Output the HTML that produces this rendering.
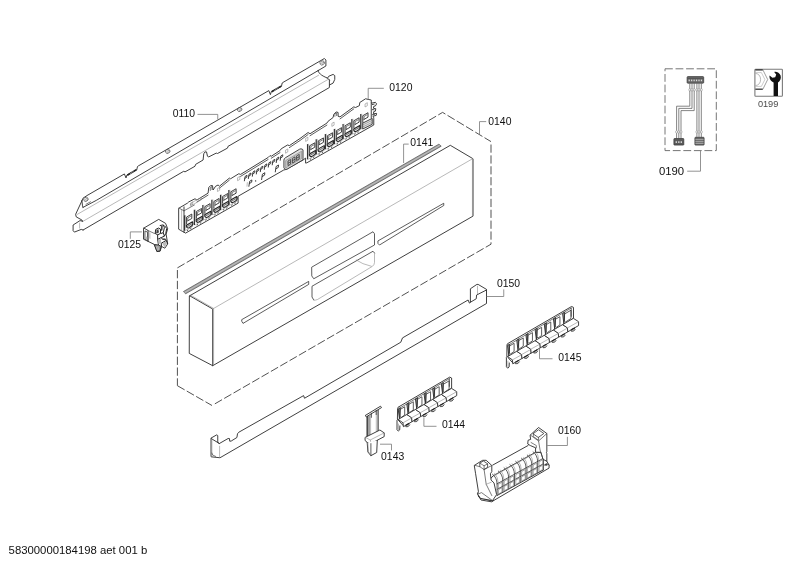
<!DOCTYPE html>
<html><head><meta charset="utf-8"><title>Parts diagram</title>
<style>
html,body{margin:0;padding:0;background:#fff;}
body{width:800px;height:566px;overflow:hidden;font-family:"Liberation Sans",sans-serif;}
svg{display:block;will-change:transform;}
svg text{font-family:"Liberation Sans",sans-serif;}
.k{stroke:#2a2a2a;stroke-width:0.9;fill:none;stroke-linejoin:round;stroke-linecap:round;}
.k2{stroke:#333;stroke-width:0.8;fill:none;stroke-linejoin:round;stroke-linecap:round;}
.m{stroke:#444;stroke-width:0.7;fill:none;stroke-linejoin:round;stroke-linecap:round;}
.g{stroke:#8a8a8a;stroke-width:0.6;fill:none;stroke-linejoin:round;stroke-linecap:round;}
.l{stroke:#777;stroke-width:0.8;fill:none;}
.d{stroke:#555;stroke-width:0.8;fill:none;stroke-dasharray:9.2 2.3;}
.w{stroke:#2a2a2a;stroke-width:0.9;fill:#fff;stroke-linejoin:round;stroke-linecap:round;}
.wg{stroke:#8a8a8a;stroke-width:0.6;fill:#fff;stroke-linejoin:round;}
.t{stroke:#555;stroke-width:0.5;fill:none;stroke-linejoin:round;}
.wm{stroke:#444;stroke-width:0.7;fill:#fff;stroke-linejoin:round;stroke-linecap:round;}
</style></head><body>
<svg width="800" height="566" viewBox="0 0 800 566">
<rect width="800" height="566" fill="#fff"/>
<path class="k" d="M81.90 200.80 L83.00 198.20 L86.90 195.60 L124.40 173.95 L126.00 177.95 L126.90 175.05 L136.70 170.03 L137.50 166.53 L138.30 165.93 L268.80 90.61 L270.40 94.61 L271.30 91.71 L281.40 86.51 L282.20 83.01 L283.00 82.41 L324.40 58.50 L325.90 60.00 L325.90 66.00 L318.10 70.60" fill="none" />
<path d="M127.30 175.15 L136.40 169.63" stroke="#222" stroke-width="1.7" fill="none"/>
<path d="M129.90 174.05 L133.80 170.83" stroke="#ddd" stroke-width="0.5" fill="none"/>
<path d="M271.70 91.81 L281.10 86.11" stroke="#222" stroke-width="1.7" fill="none"/>
<path d="M274.30 90.71 L278.50 87.31" stroke="#ddd" stroke-width="0.5" fill="none"/>
<path class="k" d="M81.90 200.80 L82.50 205.80 L83.00 207.40" fill="none" />
<path class="k" d="M83.00 207.40 L96.25 200.40 L318.10 70.60" fill="none" />
<path class="m" d="M86.00 204.30 L90.50 201.80" fill="none" />
<ellipse cx="85.90" cy="199.30" rx="2.3" ry="2.0" stroke="#555" stroke-width="0.75" fill="none" transform="rotate(-30 85.90 199.30)"/>
<ellipse cx="86.20" cy="199.60" rx="1.1" ry="0.9" class="g" transform="rotate(-30 85.90 199.30)"/>
<ellipse cx="167.70" cy="151.30" rx="2.3" ry="2.0" stroke="#555" stroke-width="0.75" fill="none" transform="rotate(-30 167.70 151.30)"/>
<ellipse cx="168.00" cy="151.60" rx="1.1" ry="0.9" class="g" transform="rotate(-30 167.70 151.30)"/>
<ellipse cx="239.60" cy="109.40" rx="2.3" ry="2.0" stroke="#555" stroke-width="0.75" fill="none" transform="rotate(-30 239.60 109.40)"/>
<ellipse cx="239.90" cy="109.70" rx="1.1" ry="0.9" class="g" transform="rotate(-30 239.60 109.40)"/>
<ellipse cx="322.20" cy="62.90" rx="2.3" ry="2.0" stroke="#555" stroke-width="0.75" fill="none" transform="rotate(-30 322.20 62.90)"/>
<ellipse cx="322.50" cy="63.20" rx="1.1" ry="0.9" class="g" transform="rotate(-30 322.20 62.90)"/>
<path class="k" d="M81.90 200.80 L75.60 214.40 L76.25 216.90 L81.90 220.00 L82.50 221.25" fill="none" />
<path class="g" d="M76.90 214.60 L318.60 75.23" fill="none" />
<path class="g" d="M83.10 221.25 L328.10 79.40" fill="none" />
<path class="k" d="M82.50 221.25 L80.00 220.60 L73.10 225.00 L73.10 230.60 L74.40 232.10 L81.25 229.40 L83.10 230.00" fill="none" />
<path class="g" d="M79.60 223.10 L79.60 228.10"/>
<path class="k" d="M83.10 230.00 L183.75 171.25 L185.00 171.90 L195.00 166.25 L195.60 164.40 L203.10 160.00 L203.75 153.75 L205.00 151.90 L206.50 151.90 L207.50 156.25 L208.75 156.90 L216.25 153.10 L217.50 153.50 L227.50 148.10 L228.10 146.25 L230.00 145.25 L329.40 87.50 L329.40 80.00" fill="none" />
<path class="k" d="M318.1 70.6 C318.6 73 320.5 75.2 327.5 78.1 L329.4 80"/>
<path class="k" d="M327.50 78.10 L328.75 76.25 L333.10 74.40 L334.75 75.60 L334.75 79.40 L333.10 83.10 L329.60 84.90" fill="none" />
<text x="172.80" y="117.30" font-size="10.4" fill="#111" text-anchor="start">0110</text>
<path class="l" d="M197.50 114.40 L217.75 114.40 L217.75 119.40" fill="none" />
<text x="8.60" y="554.20" font-size="11.33" fill="#111" text-anchor="start">58300000184198 aet 001 b</text>
<path class="w" d="M179.00 208.10 L187.50 203.10 L188.75 201.90 L195.00 198.75 L196.90 200.00 L208.10 193.10 L208.75 187.50 L210.60 185.60 L212.50 185.60 L213.10 190.00 L215.60 186.25 L218.10 185.00 L219.40 186.25 L229.40 178.10 L230.60 178.75 L238.75 173.75 L240.60 174.40 L268.10 157.50 L270.00 155.60 L271.25 156.25 L280.00 150.60 L281.25 148.75 L287.50 145.00 L289.40 145.60 L300.00 138.50 L308.10 132.50 L310.00 133.75 L326.90 123.10 L328.10 121.25 L333.10 117.50 L333.75 114.40 L336.25 111.90 L338.10 112.50 L338.10 116.25 L340.00 116.90 L353.75 106.90 L355.60 107.50 L359.40 105.60 L359.75 102.50 L365.60 98.75 L368.10 99.40 L371.25 100.00 L371.25 103.10 L371.90 103.10 L375.40 102.30 L376.60 103.90 L375.40 105.90 L373.80 106.30 L373.40 108.30 L375.80 108.70 L375.40 111.10 L373.80 111.50 L373.40 113.80 L376.60 113.40 L376.20 115.40 L373.00 116.20 L373.75 117.80 L373.75 118.75 L373.75 125.00 L306.90 162.80 L305.60 163.10 L305.60 158.10 L303.10 160.00 L286.25 169.40 L283.75 170.00 L238.10 196.25 L238.10 203.10 L185.60 233.10 L179.00 229.40 Z" fill="none" />
<path class="k2" d="M196.90 202.00 L208.10 195.10" fill="none" />
<path class="k2" d="M219.40 188.25 L229.40 180.10" fill="none" />
<path class="k2" d="M240.60 176.40 L268.10 159.50" fill="none" />
<path class="k2" d="M271.25 158.25 L280.00 152.60" fill="none" />
<path class="k2" d="M289.40 147.60 L300.00 140.50 L308.10 134.50" fill="none" />
<path class="k2" d="M310.00 135.75 L326.90 125.10" fill="none" />
<path class="k2" d="M340.00 118.90 L353.75 108.90" fill="none" />
<path class="g" d="M181.60 209.80 L181.60 231.00"/>
<path class="k" d="M184.00 206.90 L184.00 232.20"/>
<path class="m" d="M179.00 208.10 L184.00 210.80" fill="none" />
<path class="m" d="M184.00 210.80 L194.40 205.00" fill="none" />
<path class="g" d="M190.60 204.40 L192.50 202.20 L201.50 197.50 L201.50 199.60 L193.50 204.40 L190.60 204.40" fill="none" />
<path class="m" d="M210.3 190.5 L210.3 187.6 L212 186.6 L212 189.6"/>
<path class="m" d="M334.9 116.3 L334.9 113.6 L336.6 112.9 L336.6 115.6"/>
<path class="g" d="M217.80 188.30 L219.70 187.21 L219.70 190.21 L217.80 191.30 Z" fill="none" />
<path class="g" d="M237.90 177.50 L239.80 176.41 L239.80 179.41 L237.90 180.50 Z" fill="none" />
<path class="g" d="M285.90 150.00 L287.80 148.91 L287.80 151.91 L285.90 153.00 Z" fill="none" />
<path class="g" d="M306.00 138.20 L307.90 137.11 L307.90 140.11 L306.00 141.20 Z" fill="none" />
<path class="g" d="M332.20 123.20 L334.10 122.11 L334.10 125.11 L332.20 126.20 Z" fill="none" />
<path class="g" d="M365.40 103.80 L367.30 102.71 L367.30 105.71 L365.40 106.80 Z" fill="none" />
<path class="g" d="M190.80 203.00 L192.70 201.91 L192.70 204.91 L190.80 206.00 Z" fill="none" />
<path d="M184.60 215.37 L184.60 230.67" stroke="#333" stroke-width="1.3" fill="none"/>
<path d="M185.60 215.07 L185.60 227.67" stroke="#999" stroke-width="0.6" fill="none"/>
<path class="k" d="M186.60 223.87 L186.60 217.07 L191.80 214.07 L191.80 218.47 L187.80 220.77" fill="none" />
<path class="m" d="M187.80 220.77 L187.80 217.87 L190.80 216.17" fill="none" />
<path d="M186.40 225.27 L192.50 221.77 Q193.60 224.37 191.60 226.07 L189.20 227.67 Q186.50 228.77 186.40 225.27 Z" fill="#e4e4e4" stroke="#222" stroke-width="1.1" stroke-linejoin="round"/>
<path class="m" d="M186.90 226.67 L192.50 223.47" fill="none" />
<path class="g" d="M185.80 230.27 L192.80 226.27" fill="none" />
<path d="M187.00 230.67 l1.2 -0.7 M190.20 228.87 l1.2 -0.7" stroke="#333" stroke-width="0.9"/>
<path d="M194.40 209.77 L194.40 225.07" stroke="#333" stroke-width="1.3" fill="none"/>
<path d="M195.40 209.47 L195.40 222.07" stroke="#999" stroke-width="0.6" fill="none"/>
<path class="k" d="M196.40 218.27 L196.40 211.47 L201.60 208.47 L201.60 212.87 L197.60 215.17" fill="none" />
<path class="m" d="M197.60 215.17 L197.60 212.27 L200.60 210.57" fill="none" />
<path d="M196.20 219.67 L202.30 216.17 Q203.40 218.77 201.40 220.47 L199.00 222.07 Q196.30 223.17 196.20 219.67 Z" fill="#e4e4e4" stroke="#222" stroke-width="1.1" stroke-linejoin="round"/>
<path class="m" d="M196.70 221.07 L202.30 217.87" fill="none" />
<path class="g" d="M195.60 224.67 L202.60 220.67" fill="none" />
<path d="M196.80 225.07 l1.2 -0.7 M200.00 223.27 l1.2 -0.7" stroke="#333" stroke-width="0.9"/>
<path d="M202.90 204.91 L202.90 220.21" stroke="#333" stroke-width="1.3" fill="none"/>
<path d="M203.90 204.61 L203.90 217.21" stroke="#999" stroke-width="0.6" fill="none"/>
<path class="k" d="M204.90 213.41 L204.90 206.61 L210.10 203.61 L210.10 208.01 L206.10 210.31" fill="none" />
<path class="m" d="M206.10 210.31 L206.10 207.41 L209.10 205.71" fill="none" />
<path d="M204.70 214.81 L210.80 211.31 Q211.90 213.91 209.90 215.61 L207.50 217.21 Q204.80 218.31 204.70 214.81 Z" fill="#e4e4e4" stroke="#222" stroke-width="1.1" stroke-linejoin="round"/>
<path class="m" d="M205.20 216.21 L210.80 213.01" fill="none" />
<path class="g" d="M204.10 219.81 L211.10 215.81" fill="none" />
<path d="M205.30 220.21 l1.2 -0.7 M208.50 218.41 l1.2 -0.7" stroke="#333" stroke-width="0.9"/>
<path d="M211.90 199.77 L211.90 215.07" stroke="#333" stroke-width="1.3" fill="none"/>
<path d="M212.90 199.47 L212.90 212.07" stroke="#999" stroke-width="0.6" fill="none"/>
<path class="k" d="M213.90 208.27 L213.90 201.47 L219.10 198.47 L219.10 202.87 L215.10 205.17" fill="none" />
<path class="m" d="M215.10 205.17 L215.10 202.27 L218.10 200.57" fill="none" />
<path d="M213.70 209.67 L219.80 206.17 Q220.90 208.77 218.90 210.47 L216.50 212.07 Q213.80 213.17 213.70 209.67 Z" fill="#e4e4e4" stroke="#222" stroke-width="1.1" stroke-linejoin="round"/>
<path class="m" d="M214.20 211.07 L219.80 207.87" fill="none" />
<path class="g" d="M213.10 214.67 L220.10 210.67" fill="none" />
<path d="M214.30 215.07 l1.2 -0.7 M217.50 213.27 l1.2 -0.7" stroke="#333" stroke-width="0.9"/>
<path d="M220.60 194.80 L220.60 210.10" stroke="#333" stroke-width="1.3" fill="none"/>
<path d="M221.60 194.50 L221.60 207.10" stroke="#999" stroke-width="0.6" fill="none"/>
<path class="k" d="M222.60 203.30 L222.60 196.50 L227.80 193.50 L227.80 197.90 L223.80 200.20" fill="none" />
<path class="m" d="M223.80 200.20 L223.80 197.30 L226.80 195.60" fill="none" />
<path d="M222.40 204.70 L228.50 201.20 Q229.60 203.80 227.60 205.50 L225.20 207.10 Q222.50 208.20 222.40 204.70 Z" fill="#e4e4e4" stroke="#222" stroke-width="1.1" stroke-linejoin="round"/>
<path class="m" d="M222.90 206.10 L228.50 202.90" fill="none" />
<path class="g" d="M221.80 209.70 L228.80 205.70" fill="none" />
<path d="M223.00 210.10 l1.2 -0.7 M226.20 208.30 l1.2 -0.7" stroke="#333" stroke-width="0.9"/>
<path d="M228.90 190.06 L228.90 205.36" stroke="#333" stroke-width="1.3" fill="none"/>
<path d="M229.90 189.76 L229.90 202.36" stroke="#999" stroke-width="0.6" fill="none"/>
<path class="k" d="M230.90 198.56 L230.90 191.76 L236.10 188.76 L236.10 193.16 L232.10 195.46" fill="none" />
<path class="m" d="M232.10 195.46 L232.10 192.56 L235.10 190.86" fill="none" />
<path d="M230.70 199.96 L236.80 196.46 Q237.90 199.06 235.90 200.76 L233.50 202.36 Q230.80 203.46 230.70 199.96 Z" fill="#e4e4e4" stroke="#222" stroke-width="1.1" stroke-linejoin="round"/>
<path class="m" d="M231.20 201.36 L236.80 198.16" fill="none" />
<path class="g" d="M230.10 204.96 L237.10 200.96" fill="none" />
<path d="M231.30 205.36 l1.2 -0.7 M234.50 203.56 l1.2 -0.7" stroke="#333" stroke-width="0.9"/>
<path d="M307.60 144.10 L307.60 159.40" stroke="#333" stroke-width="1.3" fill="none"/>
<path d="M308.60 143.80 L308.60 156.40" stroke="#999" stroke-width="0.6" fill="none"/>
<path class="k" d="M309.60 152.60 L309.60 145.80 L314.80 142.80 L314.80 147.20 L310.80 149.50" fill="none" />
<path class="m" d="M310.80 149.50 L310.80 146.60 L313.80 144.90" fill="none" />
<path d="M309.40 154.00 L315.50 150.50 Q316.60 153.10 314.60 154.80 L312.20 156.40 Q309.50 157.50 309.40 154.00 Z" fill="#e4e4e4" stroke="#222" stroke-width="1.1" stroke-linejoin="round"/>
<path class="m" d="M309.90 155.40 L315.50 152.20" fill="none" />
<path class="g" d="M308.80 159.00 L315.80 155.00" fill="none" />
<path d="M310.00 159.40 l1.2 -0.7 M313.20 157.60 l1.2 -0.7" stroke="#333" stroke-width="0.9"/>
<path d="M316.25 139.21 L316.25 154.51" stroke="#333" stroke-width="1.3" fill="none"/>
<path d="M317.25 138.91 L317.25 151.51" stroke="#999" stroke-width="0.6" fill="none"/>
<path class="k" d="M318.25 147.71 L318.25 140.91 L323.45 137.91 L323.45 142.31 L319.45 144.61" fill="none" />
<path class="m" d="M319.45 144.61 L319.45 141.71 L322.45 140.01" fill="none" />
<path d="M318.05 149.11 L324.15 145.61 Q325.25 148.21 323.25 149.91 L320.85 151.51 Q318.15 152.61 318.05 149.11 Z" fill="#e4e4e4" stroke="#222" stroke-width="1.1" stroke-linejoin="round"/>
<path class="m" d="M318.55 150.51 L324.15 147.31" fill="none" />
<path class="g" d="M317.45 154.11 L324.45 150.11" fill="none" />
<path d="M318.65 154.51 l1.2 -0.7 M321.85 152.71 l1.2 -0.7" stroke="#333" stroke-width="0.9"/>
<path d="M325.40 134.04 L325.40 149.34" stroke="#333" stroke-width="1.3" fill="none"/>
<path d="M326.40 133.74 L326.40 146.34" stroke="#999" stroke-width="0.6" fill="none"/>
<path class="k" d="M327.40 142.54 L327.40 135.74 L332.60 132.74 L332.60 137.14 L328.60 139.44" fill="none" />
<path class="m" d="M328.60 139.44 L328.60 136.54 L331.60 134.84" fill="none" />
<path d="M327.20 143.94 L333.30 140.44 Q334.40 143.04 332.40 144.74 L330.00 146.34 Q327.30 147.44 327.20 143.94 Z" fill="#e4e4e4" stroke="#222" stroke-width="1.1" stroke-linejoin="round"/>
<path class="m" d="M327.70 145.34 L333.30 142.14" fill="none" />
<path class="g" d="M326.60 148.94 L333.60 144.94" fill="none" />
<path d="M327.80 149.34 l1.2 -0.7 M331.00 147.54 l1.2 -0.7" stroke="#333" stroke-width="0.9"/>
<path d="M334.40 128.95 L334.40 144.25" stroke="#333" stroke-width="1.3" fill="none"/>
<path d="M335.40 128.65 L335.40 141.25" stroke="#999" stroke-width="0.6" fill="none"/>
<path class="k" d="M336.40 137.45 L336.40 130.65 L341.60 127.65 L341.60 132.05 L337.60 134.35" fill="none" />
<path class="m" d="M337.60 134.35 L337.60 131.45 L340.60 129.75" fill="none" />
<path d="M336.20 138.85 L342.30 135.35 Q343.40 137.95 341.40 139.65 L339.00 141.25 Q336.30 142.35 336.20 138.85 Z" fill="#e4e4e4" stroke="#222" stroke-width="1.1" stroke-linejoin="round"/>
<path class="m" d="M336.70 140.25 L342.30 137.05" fill="none" />
<path class="g" d="M335.60 143.85 L342.60 139.85" fill="none" />
<path d="M336.80 144.25 l1.2 -0.7 M340.00 142.45 l1.2 -0.7" stroke="#333" stroke-width="0.9"/>
<path d="M343.10 124.03 L343.10 139.33" stroke="#333" stroke-width="1.3" fill="none"/>
<path d="M344.10 123.73 L344.10 136.33" stroke="#999" stroke-width="0.6" fill="none"/>
<path class="k" d="M345.10 132.53 L345.10 125.73 L350.30 122.73 L350.30 127.13 L346.30 129.43" fill="none" />
<path class="m" d="M346.30 129.43 L346.30 126.53 L349.30 124.83" fill="none" />
<path d="M344.90 133.93 L351.00 130.43 Q352.10 133.03 350.10 134.73 L347.70 136.33 Q345.00 137.43 344.90 133.93 Z" fill="#e4e4e4" stroke="#222" stroke-width="1.1" stroke-linejoin="round"/>
<path class="m" d="M345.40 135.33 L351.00 132.13" fill="none" />
<path class="g" d="M344.30 138.93 L351.30 134.93" fill="none" />
<path d="M345.50 139.33 l1.2 -0.7 M348.70 137.53 l1.2 -0.7" stroke="#333" stroke-width="0.9"/>
<path d="M351.90 119.05 L351.90 134.35" stroke="#333" stroke-width="1.3" fill="none"/>
<path d="M352.90 118.75 L352.90 131.35" stroke="#999" stroke-width="0.6" fill="none"/>
<path class="k" d="M353.90 127.55 L353.90 120.75 L359.10 117.75 L359.10 122.15 L355.10 124.45" fill="none" />
<path class="m" d="M355.10 124.45 L355.10 121.55 L358.10 119.85" fill="none" />
<path d="M353.70 128.95 L359.80 125.45 Q360.90 128.05 358.90 129.75 L356.50 131.35 Q353.80 132.45 353.70 128.95 Z" fill="#e4e4e4" stroke="#222" stroke-width="1.1" stroke-linejoin="round"/>
<path class="m" d="M354.20 130.35 L359.80 127.15" fill="none" />
<path class="g" d="M353.10 133.95 L360.10 129.95" fill="none" />
<path d="M354.30 134.35 l1.2 -0.7 M357.50 132.55 l1.2 -0.7" stroke="#333" stroke-width="0.9"/>
<path d="M360.80 114.02 L360.80 129.32" stroke="#333" stroke-width="1.3" fill="none"/>
<path d="M361.80 113.72 L361.80 126.32" stroke="#999" stroke-width="0.6" fill="none"/>
<path class="k" d="M362.80 122.52 L362.80 115.72 L368.00 112.72 L368.00 117.12 L364.00 119.42" fill="none" />
<path class="m" d="M364.00 119.42 L364.00 116.52 L367.00 114.82" fill="none" />
<path d="M362.70 123.12 L372.20 118.42 L372.20 124.32 L362.70 129.02 Z" fill="#e6e6e6" stroke="#2a2a2a" stroke-width="0.9" stroke-linejoin="round"/>
<path d="M362.70 125.02 L372.20 120.32 M362.70 127.02 L372.20 122.32" stroke="#777" stroke-width="0.6"/>
<path d="M372 104.6 L374.6 104 M372 109.6 L374.4 109.8 M372 114.8 L374.8 114.6" stroke="#333" stroke-width="0.9" fill="none"/>
<path class="k" d="M371.25 103.10 L371.25 118.00"/>
<path class="k" d="M244.40 180.82 L245.05 176.50 L246.99 175.31 L246.78 177.26 L244.94 178.34"/>
<path class="k" d="M248.38 178.54 L249.03 174.22 L250.97 173.03 L250.76 174.98 L248.92 176.06"/>
<path class="k" d="M252.36 176.26 L253.01 171.94 L254.95 170.75 L254.74 172.70 L252.90 173.78"/>
<path class="k" d="M256.34 173.98 L256.99 169.66 L258.93 168.47 L258.72 170.42 L256.88 171.50"/>
<path class="k" d="M260.32 171.70 L260.97 167.38 L262.91 166.19 L262.70 168.14 L260.86 169.22"/>
<path class="k" d="M264.30 169.42 L264.95 165.10 L266.89 163.91 L266.68 165.86 L264.84 166.94"/>
<path class="k" d="M268.28 167.14 L268.93 162.82 L270.87 161.63 L270.66 163.58 L268.82 164.66"/>
<path class="k" d="M272.26 164.86 L272.91 160.54 L274.85 159.35 L274.64 161.30 L272.80 162.38"/>
<path class="k" d="M276.24 162.58 L276.89 158.26 L278.83 157.07 L278.62 159.02 L276.78 160.10"/>
<path class="k" d="M280.22 160.30 L280.87 155.98 L282.81 154.79 L282.60 156.74 L280.76 157.82"/>
<path class="k" d="M248.90 186.30 L249.65 181.30 L251.90 179.93 L251.65 182.18 L249.53 183.43"/>
<path class="g" d="M247.30 182.60 L247.00 186.20"/>
<circle cx="255.6" cy="180.9" r="0.7" fill="#333"/>
<path class="k" d="M261.60 179.60 L262.41 174.20 L264.84 172.71 L264.57 175.14 L262.28 176.49"/>
<path class="k" d="M275.30 171.90 L276.11 166.50 L278.54 165.01 L278.27 167.44 L275.98 168.79"/>
<path d="M283.9 160.2 Q283.9 158.6 285.3 157.8 L299.6 149.2 Q301 148.4 302.2 149.2 L303 149.8 L303 159.8 L287 169.2 Q285.6 169.9 284.6 168.8 L283.9 167.8 Z" fill="#e2e2e2" stroke="#333" stroke-width="0.9"/>
<path d="M285.6 160.6 L285.6 168 L301.6 158.6 L301.6 151.2 Z" fill="#c6c6c6" stroke="#777" stroke-width="0.5"/>
<path d="M288.00 161.00 l2.6 -1.5 l0 4.6 l-2.6 1.5 Z M288.00 163.30 l2.6 -1.5" fill="none" stroke="#333" stroke-width="0.8"/>
<path d="M292.40 158.40 l2.6 -1.5 l0 4.6 l-2.6 1.5 Z M292.40 160.70 l2.6 -1.5" fill="none" stroke="#333" stroke-width="0.8"/>
<path d="M296.60 155.90 l2.6 -1.5 l0 4.6 l-2.6 1.5 Z M296.60 158.20 l2.6 -1.5" fill="none" stroke="#333" stroke-width="0.8"/>
<text x="389.30" y="91.20" font-size="10.4" fill="#111" text-anchor="start">0120</text>
<path class="l" d="M383.80 88.30 L368.20 88.30 L368.20 99.50" fill="none" />
<path class="w" d="M143.88 228.06 L158.71 219.38 L165.56 223.33 L167.68 228.77 L166.13 234.07 L167.68 243.95 L164.86 248.19 L161.54 246.43 L160.13 251.16 L156.95 251.58 L154.12 244.31 L143.88 239.36 Z" fill="none" />
<path class="k" d="M143.88 228.06 L148.12 230.54 L148.12 241.48" fill="none" />
<path class="k2" d="M145.30 231.10 L147.63 232.23 L147.63 240.56 L145.30 239.36 Z" fill="#fff" />
<path d="M145.65 236.19 L147.34 237.03 L147.34 240.07 L145.65 239.22 Z" fill="#bbb" stroke="none"/>
<path d="M148.90 232.09 L150.59 232.80 L150.59 239.01 L148.90 238.31 Z" fill="#d0d0d0" stroke="none"/>
<path class="m" d="M148.12 230.54 L154.48 233.50 L158.50 231.38" fill="none" />
<path d="M154.48 244.52 L156.95 251.37 L159.92 251.02 L161.19 246.43 L158.50 245.01 Z" fill="#999" stroke="#222" stroke-width="0.9" stroke-linejoin="round"/>
<path d="M155.89 246.07 L157.66 250.66 M157.66 246.07 L158.93 250.31" stroke="#ddd" stroke-width="0.5" fill="none"/>
<path d="M155.18 233.50 L155.68 229.48 L158.50 228.06 L160.48 229.12 L160.48 233.50 L157.66 234.77 L155.18 233.50 M159.77 225.59 L163.31 224.89 L164.36 227.71 L163.31 232.66 L160.83 233.50 M164.36 225.59 L166.69 228.42 L165.78 233.50 L164.36 236.19 L163.31 232.66 M157.66 234.77 L157.66 239.36 L161.19 237.60 L164.36 236.19 M157.66 239.36 L158.50 245.01 M161.19 243.25 L166.27 240.42 L167.54 243.95 M161.19 243.25 L161.54 246.43 M161.19 237.60 L162.60 239.36 L165.56 239.36 L166.27 240.42" fill="none" stroke="#222" stroke-width="1.0" stroke-linejoin="round"/>
<path d="M156.38 230.18 L158.50 229.12 L158.71 232.66 L156.60 233.50 Z M162.46 238.45 L165.42 238.45 L165.28 240.14 L162.74 239.86 Z M160.90 226.30 L162.74 225.73 L162.46 230.18 L161.05 230.89 Z" fill="#444" stroke="none"/>
<path d="M158.22 239.72 L161.05 238.31 L161.05 242.90 L158.50 244.31 Z M162.03 243.60 L165.85 241.27 L166.84 243.81 L164.72 247.13 Z" fill="#bbb" stroke="none"/>
<text x="118.00" y="248.00" font-size="10.4" fill="#111" text-anchor="start">0125</text>
<path class="l" d="M130.30 238.80 L130.30 231.90 L141.90 231.90" fill="none" />
<path d="M177.40 267.90 L184.56 263.70 M186.72 262.44 L193.88 258.24 M196.03 256.97 L203.19 252.78 M205.35 251.51 L212.51 247.31 M214.67 246.05 L221.83 241.85 M223.98 240.59 L231.14 236.39 M233.30 235.12 L240.46 230.93 M242.62 229.66 L249.78 225.46 M251.93 224.20 L259.09 220.00 M261.25 218.74 L268.41 214.54 M270.57 213.27 L277.73 209.07 M279.88 207.81 L287.04 203.61 M289.20 202.35 L296.36 198.15 M298.52 196.88 L305.68 192.69 M307.83 191.42 L314.99 187.22 M317.15 185.96 L324.31 181.76 M326.46 180.50 L333.62 176.30 M335.78 175.03 L342.94 170.83 M345.10 169.57 L352.26 165.37 M354.41 164.11 L361.57 159.91 M363.73 158.64 L370.89 154.45 M373.05 153.18 L380.21 148.98 M382.36 147.72 L389.52 143.52 M391.68 142.26 L398.84 138.06 M401.00 136.79 L408.16 132.60 M410.31 131.33 L417.47 127.13 M419.63 125.87 L426.79 121.67 M428.95 120.41 L436.11 116.21 M438.26 114.94 L442.60 112.40 L445.40 114.09 M447.54 115.38 L454.65 119.67 M456.79 120.96 L463.90 125.25 M466.04 126.54 L473.14 130.83 M475.29 132.12 L482.39 136.41 M484.53 137.70 L491.00 141.60" stroke="#484848" stroke-width="0.95" fill="none" stroke-linejoin="miter"/>
<path d="M491.00 144.50 L491.00 152.70 M491.00 155.37 L491.00 163.57 M491.00 166.24 L491.00 174.44 M491.00 177.11 L491.00 185.31 M491.00 187.98 L491.00 196.18 M491.00 198.85 L491.00 207.05 M491.00 209.72 L491.00 217.92 M491.00 220.59 L491.00 228.79 M491.00 231.46 L491.00 239.66 M491.00 242.33 L491.00 244.20" stroke="#484848" stroke-width="0.95" fill="none" stroke-linejoin="miter"/>
<path d="M214.86 403.85 L222.04 399.69 M224.20 398.45 L231.38 394.29 M233.54 393.05 L240.72 388.89 M242.88 387.65 L250.07 383.49 M252.22 382.25 L259.41 378.09 M261.56 376.85 L268.75 372.69 M270.90 371.45 L278.09 367.29 M280.25 366.04 L287.43 361.89 M289.59 360.64 L296.77 356.49 M298.93 355.24 L306.11 351.09 M308.27 349.84 L315.45 345.69 M317.61 344.44 L324.80 340.29 M326.95 339.04 L334.14 334.89 M336.29 333.64 L343.48 329.49 M345.63 328.24 L352.82 324.09 M354.98 322.84 L362.16 318.69 M364.32 317.44 L371.50 313.29 M373.66 312.04 L380.84 307.89 M383.00 306.64 L390.18 302.48 M392.34 301.24 L399.53 297.08 M401.68 295.84 L408.87 291.68 M411.02 290.44 L418.21 286.28 M420.36 285.04 L427.55 280.88 M429.71 279.64 L436.89 275.48 M439.05 274.24 L446.23 270.08 M448.39 268.84 L455.57 264.68 M457.73 263.44 L464.91 259.28 M467.07 258.03 L474.26 253.88 M476.41 252.63 L483.60 248.48 M485.75 247.23 L491.00 244.20" stroke="#484848" stroke-width="0.95" fill="none" stroke-linejoin="miter"/>
<path d="M177.40 385.70 L184.60 389.82 M186.77 391.06 L193.98 395.19 M196.15 396.43 L203.35 400.55 M205.52 401.79 L212.00 405.50" stroke="#484848" stroke-width="0.95" fill="none" stroke-linejoin="miter"/>
<path d="M177.40 270.00 L177.40 278.30 M177.40 280.83 L177.40 289.13 M177.40 291.66 L177.40 299.96 M177.40 302.49 L177.40 310.79 M177.40 313.32 L177.40 321.62 M177.40 324.15 L177.40 332.45 M177.40 334.98 L177.40 343.28 M177.40 345.81 L177.40 354.11 M177.40 356.64 L177.40 364.94 M177.40 367.47 L177.40 375.77 M177.40 378.30 L177.40 385.70" stroke="#484848" stroke-width="0.95" fill="none" stroke-linejoin="miter"/>
<text x="488.30" y="125.40" font-size="10.4" fill="#111" text-anchor="start">0140</text>
<path class="l" d="M486.20 121.60 L479.50 121.60 L479.50 134.50" fill="none" />
<path d="M183.5 291.5 L438.9 144.2 L441.2 146.2 L185.6 293.8 Z" fill="#a4a4a4" stroke="#4a4a4a" stroke-width="0.7" stroke-linejoin="round"/>
<path d="M184.5 292.6 L440 145.2" stroke="#c4c4c4" stroke-width="0.7" fill="none"/>
<path class="w" d="M189.70 295.80 L450.30 145.30 L472.80 158.60 L472.90 216.20 L212.70 365.70 L189.60 353.60 Z" fill="none" />
<path d="M472.95 159.2 L472.95 215.9" stroke="#fff" stroke-width="2.2" fill="none"/>
<path d="M472.95 159.0 L472.95 216.0" stroke="#979797" stroke-width="2.0" fill="none"/>
<path class="k" d="M189.70 295.80 L212.70 309.00 L212.70 365.70" fill="none" />
<path class="g" d="M190.60 295.20 L213.60 308.40" fill="none" />
<path class="g" d="M212.70 309.00 L472.60 158.70" fill="none" />
<path class="g" d="M213.60 309.50 L213.60 365.00"/>
<path class="k2" d="M242.00 319.50 L308.70 281.40 L308.70 284.40 L243.00 323.40 L242.00 321.70 Z" fill="none" />
<path class="k2" d="M378.25 240.75 L443.75 203.25 L443.75 205.50 L379.50 245.00 L378.25 243.75 Z" fill="none" />
<path class="k2" d="M312.00 267.00 L373.00 231.75 L374.50 233.75 L374.50 245.00 L313.75 278.75 L312.00 276.25 Z" fill="none" />
<path class="k2" d="M374.5 253 L373 251.25 L312 286.25 L312 297 L313.75 300"/>
<path class="g" d="M374.5 253 L374.5 262.5 Q374.3 265 372.5 266.25 L317.5 299.5 Q315 300.6 313.75 300"/>
<path class="g" d="M356.25 260 Q362 264.2 371.25 266.25"/>
<text x="410.20" y="145.50" font-size="10.4" fill="#111" text-anchor="start">0141</text>
<path class="l" d="M408.70 144.10 L403.60 144.10 L403.60 163.00" fill="none" />
<path class="w" d="M211.00 456.25 L211.00 438.10 L216.90 434.75 L217.75 435.60 L217.75 442.50 L219.40 443.50 L219.40 443.50 L228.10 438.50 L229.40 438.50 L229.75 441.25 L231.25 441.00 L236.90 437.50 L237.50 433.75 L238.75 432.25 L303.60 395.60 L304.50 398.25 L400.75 342.25 L402.50 337.90 L468.10 300.00 L469.40 303.10 L470.40 302.25 L470.40 288.75 L476.90 284.40 L478.10 284.40 L486.50 289.40 L486.50 303.50 L220.00 457.75 L211.90 456.90 Z" fill="none" />
<path class="k" d="M211.25 438.60 L219.40 443.50" fill="none" />
<path class="g" d="M211.90 439.20 L211.90 456.00"/>
<path class="g" d="M219.60 446.25 L219.60 457.50"/>
<path class="m" d="M211.90 453.00 L212.60 455.00 L215.60 456.40" fill="none" />
<path class="k" d="M470.40 302.25 L476.25 298.75 L476.60 295.00 L486.50 290.00" fill="none" />
<path class="g" d="M477.50 286.25 L477.50 293.75"/>
<text x="496.90" y="287.00" font-size="10.4" fill="#111" text-anchor="start">0150</text>
<path class="l" d="M486.50 296.50 L503.75 296.50 L503.75 289.40" fill="none" />
<path class="w" d="M507.10 344.70 L507.40 343.80 L571.59 306.49 L573.49 307.39 L573.49 318.09 L512.80 362.90 L507.10 356.60 Z" fill="none" />
<path class="m" d="M508.20 345.20 L571.19 308.09" fill="none" />
<path class="k2" d="M571.19 308.09 L571.19 316.29"/>
<path class="w" d="M507.10 356.60 L506.40 357.40 L506.40 366.80 L507.70 368.20 L509.10 367.00 L509.30 363.00" fill="none" />
<path class="g" d="M507.90 361.10 L507.90 367.10"/>
<path d="M507.60 345.50 L509.70 344.30 L508.90 356.10 Z" fill="#999" stroke="#2a2a2a" stroke-width="0.9" stroke-linejoin="round"/>
<path class="k2" d="M509.80 345.80 L514.10 343.30 L514.10 351.50 L510.60 353.94 L509.80 353.40 Z" fill="none" />
<path d="M516.77 340.17 L518.87 338.97 L518.07 350.77 Z" fill="#999" stroke="#2a2a2a" stroke-width="0.9" stroke-linejoin="round"/>
<path class="k2" d="M518.97 340.47 L523.27 337.97 L523.27 346.17 L519.77 348.61 L518.97 348.07 Z" fill="none" />
<path d="M525.94 334.84 L528.04 333.64 L527.24 345.44 Z" fill="#999" stroke="#2a2a2a" stroke-width="0.9" stroke-linejoin="round"/>
<path class="k2" d="M528.14 335.14 L532.44 332.64 L532.44 340.84 L528.94 343.28 L528.14 342.74 Z" fill="none" />
<path d="M535.11 329.51 L537.21 328.31 L536.41 340.11 Z" fill="#999" stroke="#2a2a2a" stroke-width="0.9" stroke-linejoin="round"/>
<path class="k2" d="M537.31 329.81 L541.61 327.31 L541.61 335.51 L538.11 337.95 L537.31 337.41 Z" fill="none" />
<path d="M544.28 324.18 L546.38 322.98 L545.58 334.78 Z" fill="#999" stroke="#2a2a2a" stroke-width="0.9" stroke-linejoin="round"/>
<path class="k2" d="M546.48 324.48 L550.78 321.98 L550.78 330.18 L547.28 332.62 L546.48 332.08 Z" fill="none" />
<path d="M553.45 318.85 L555.55 317.65 L554.75 329.45 Z" fill="#999" stroke="#2a2a2a" stroke-width="0.9" stroke-linejoin="round"/>
<path class="k2" d="M555.65 319.15 L559.95 316.65 L559.95 324.85 L556.45 327.29 L555.65 326.75 Z" fill="none" />
<path d="M562.62 313.52 L564.72 312.32 L563.92 324.12 Z" fill="#999" stroke="#2a2a2a" stroke-width="0.9" stroke-linejoin="round"/>
<path class="k2" d="M564.82 313.82 L570.99 310.23 L570.99 318.43 L565.62 321.96 L564.82 321.42 Z" fill="none" />
<path d="M507.60 356.60 L516.77 351.27 L521.97 354.57 L521.97 358.47 L512.80 363.80 L512.40 359.90 Z" fill="#fff" stroke="#2a2a2a" stroke-width="0.9" stroke-linejoin="round"/>
<path class="g" d="M512.40 359.90 L521.97 354.57" fill="none" />
<path d="M515.18 362.04 l0.3 1.7 l2.4 -0.2 l1.7 -2.0" stroke="#333" stroke-width="0.8" fill="#ccc" stroke-linejoin="round"/>
<path d="M515.38 362.34 l3.6 -2.0" stroke="#222" stroke-width="1.2"/>
<path d="M516.77 351.27 L525.94 345.94 L531.14 349.24 L531.14 353.14 L521.97 358.47 L521.57 354.57 Z" fill="#fff" stroke="#2a2a2a" stroke-width="0.9" stroke-linejoin="round"/>
<path class="g" d="M521.57 354.57 L531.14 349.24" fill="none" />
<path d="M524.36 356.70 l0.3 1.7 l2.4 -0.2 l1.7 -2.0" stroke="#333" stroke-width="0.8" fill="#ccc" stroke-linejoin="round"/>
<path d="M524.56 357.00 l3.6 -2.0" stroke="#222" stroke-width="1.2"/>
<path d="M525.94 345.94 L535.11 340.61 L540.31 343.91 L540.31 347.81 L531.14 353.14 L530.74 349.24 Z" fill="#fff" stroke="#2a2a2a" stroke-width="0.9" stroke-linejoin="round"/>
<path class="g" d="M530.74 349.24 L540.31 343.91" fill="none" />
<path d="M533.52 351.37 l0.3 1.7 l2.4 -0.2 l1.7 -2.0" stroke="#333" stroke-width="0.8" fill="#ccc" stroke-linejoin="round"/>
<path d="M533.72 351.67 l3.6 -2.0" stroke="#222" stroke-width="1.2"/>
<path d="M535.11 340.61 L544.28 335.28 L549.48 338.58 L549.48 342.48 L540.31 347.81 L539.91 343.91 Z" fill="#fff" stroke="#2a2a2a" stroke-width="0.9" stroke-linejoin="round"/>
<path class="g" d="M539.91 343.91 L549.48 338.58" fill="none" />
<path d="M542.69 346.05 l0.3 1.7 l2.4 -0.2 l1.7 -2.0" stroke="#333" stroke-width="0.8" fill="#ccc" stroke-linejoin="round"/>
<path d="M542.89 346.35 l3.6 -2.0" stroke="#222" stroke-width="1.2"/>
<path d="M544.28 335.28 L553.45 329.95 L558.65 333.25 L558.65 337.15 L549.48 342.48 L549.08 338.58 Z" fill="#fff" stroke="#2a2a2a" stroke-width="0.9" stroke-linejoin="round"/>
<path class="g" d="M549.08 338.58 L558.65 333.25" fill="none" />
<path d="M551.87 340.71 l0.3 1.7 l2.4 -0.2 l1.7 -2.0" stroke="#333" stroke-width="0.8" fill="#ccc" stroke-linejoin="round"/>
<path d="M552.07 341.01 l3.6 -2.0" stroke="#222" stroke-width="1.2"/>
<path d="M553.45 329.95 L562.62 324.62 L567.82 327.92 L567.82 331.82 L558.65 337.15 L558.25 333.25 Z" fill="#fff" stroke="#2a2a2a" stroke-width="0.9" stroke-linejoin="round"/>
<path class="g" d="M558.25 333.25 L567.82 327.92" fill="none" />
<path d="M561.03 335.39 l0.3 1.7 l2.4 -0.2 l1.7 -2.0" stroke="#333" stroke-width="0.8" fill="#ccc" stroke-linejoin="round"/>
<path d="M561.23 335.69 l3.6 -2.0" stroke="#222" stroke-width="1.2"/>
<path d="M562.62 324.62 L573.39 318.36 L578.59 321.66 L578.59 325.56 L567.82 331.82 L567.42 327.92 Z" fill="#fff" stroke="#2a2a2a" stroke-width="0.9" stroke-linejoin="round"/>
<path class="g" d="M567.42 327.92 L578.59 321.66" fill="none" />
<path d="M571.00 329.59 l0.3 1.7 l2.4 -0.2 l1.7 -2.0" stroke="#333" stroke-width="0.8" fill="#ccc" stroke-linejoin="round"/>
<path d="M571.21 329.89 l3.6 -2.0" stroke="#222" stroke-width="1.2"/>
<text x="558.30" y="361.30" font-size="10.4" fill="#111" text-anchor="start">0145</text>
<path class="l" d="M539.50 348.75 L539.50 358.75 L552.50 358.75" fill="none" />
<path class="w" d="M397.70 408.20 L398.00 407.30 L449.72 377.12 L451.62 378.02 L451.62 388.12 L403.40 425.80 L397.70 419.50 Z" fill="none" />
<path class="m" d="M398.80 408.70 L449.32 378.72" fill="none" />
<path class="k2" d="M449.32 378.72 L449.32 386.32"/>
<path class="w" d="M397.70 419.50 L397.00 420.30 L397.00 429.70 L398.30 431.10 L399.70 429.90 L399.90 425.90" fill="none" />
<path class="g" d="M398.50 424.00 L398.50 430.00"/>
<path d="M398.20 409.00 L400.30 407.80 L399.50 419.00 Z" fill="#999" stroke="#2a2a2a" stroke-width="0.9" stroke-linejoin="round"/>
<path class="k2" d="M400.40 409.30 L404.70 406.79 L404.70 414.99 L401.20 417.43 L400.40 416.90 Z" fill="none" />
<path d="M406.82 403.97 L408.92 402.77 L408.12 413.97 Z" fill="#999" stroke="#2a2a2a" stroke-width="0.9" stroke-linejoin="round"/>
<path class="k2" d="M409.02 404.27 L413.32 401.76 L413.32 409.96 L409.82 412.40 L409.02 411.87 Z" fill="none" />
<path d="M415.44 398.94 L417.54 397.74 L416.74 408.94 Z" fill="#999" stroke="#2a2a2a" stroke-width="0.9" stroke-linejoin="round"/>
<path class="k2" d="M417.64 399.24 L421.94 396.73 L421.94 404.93 L418.44 407.37 L417.64 406.84 Z" fill="none" />
<path d="M424.06 393.91 L426.16 392.71 L425.36 403.91 Z" fill="#999" stroke="#2a2a2a" stroke-width="0.9" stroke-linejoin="round"/>
<path class="k2" d="M426.26 394.21 L430.56 391.70 L430.56 399.90 L427.06 402.34 L426.26 401.81 Z" fill="none" />
<path d="M432.68 388.88 L434.78 387.68 L433.98 398.88 Z" fill="#999" stroke="#2a2a2a" stroke-width="0.9" stroke-linejoin="round"/>
<path class="k2" d="M434.88 389.18 L439.18 386.67 L439.18 394.87 L435.68 397.31 L434.88 396.78 Z" fill="none" />
<path d="M441.30 383.85 L443.40 382.65 L442.60 393.85 Z" fill="#999" stroke="#2a2a2a" stroke-width="0.9" stroke-linejoin="round"/>
<path class="k2" d="M443.50 384.15 L449.12 380.87 L449.12 389.07 L444.30 392.28 L443.50 391.75 Z" fill="none" />
<path d="M398.20 419.50 L406.82 414.47 L412.02 417.77 L412.02 421.67 L403.40 426.70 L403.00 422.80 Z" fill="#fff" stroke="#2a2a2a" stroke-width="0.9" stroke-linejoin="round"/>
<path class="g" d="M403.00 422.80 L412.02 417.77" fill="none" />
<path d="M405.51 425.08 l0.3 1.7 l2.4 -0.2 l1.7 -2.0" stroke="#333" stroke-width="0.8" fill="#ccc" stroke-linejoin="round"/>
<path d="M405.71 425.38 l3.6 -2.0" stroke="#222" stroke-width="1.2"/>
<path d="M406.82 414.47 L415.44 409.44 L420.64 412.74 L420.64 416.64 L412.02 421.67 L411.62 417.77 Z" fill="#fff" stroke="#2a2a2a" stroke-width="0.9" stroke-linejoin="round"/>
<path class="g" d="M411.62 417.77 L420.64 412.74" fill="none" />
<path d="M414.13 420.06 l0.3 1.7 l2.4 -0.2 l1.7 -2.0" stroke="#333" stroke-width="0.8" fill="#ccc" stroke-linejoin="round"/>
<path d="M414.33 420.36 l3.6 -2.0" stroke="#222" stroke-width="1.2"/>
<path d="M415.44 409.44 L424.06 404.41 L429.26 407.71 L429.26 411.61 L420.64 416.64 L420.24 412.74 Z" fill="#fff" stroke="#2a2a2a" stroke-width="0.9" stroke-linejoin="round"/>
<path class="g" d="M420.24 412.74 L429.26 407.71" fill="none" />
<path d="M422.75 415.02 l0.3 1.7 l2.4 -0.2 l1.7 -2.0" stroke="#333" stroke-width="0.8" fill="#ccc" stroke-linejoin="round"/>
<path d="M422.95 415.32 l3.6 -2.0" stroke="#222" stroke-width="1.2"/>
<path d="M424.06 404.41 L432.68 399.38 L437.88 402.68 L437.88 406.58 L429.26 411.61 L428.86 407.71 Z" fill="#fff" stroke="#2a2a2a" stroke-width="0.9" stroke-linejoin="round"/>
<path class="g" d="M428.86 407.71 L437.88 402.68" fill="none" />
<path d="M431.37 410.00 l0.3 1.7 l2.4 -0.2 l1.7 -2.0" stroke="#333" stroke-width="0.8" fill="#ccc" stroke-linejoin="round"/>
<path d="M431.57 410.30 l3.6 -2.0" stroke="#222" stroke-width="1.2"/>
<path d="M432.68 399.38 L441.30 394.35 L446.50 397.65 L446.50 401.55 L437.88 406.58 L437.48 402.68 Z" fill="#fff" stroke="#2a2a2a" stroke-width="0.9" stroke-linejoin="round"/>
<path class="g" d="M437.48 402.68 L446.50 397.65" fill="none" />
<path d="M439.99 404.96 l0.3 1.7 l2.4 -0.2 l1.7 -2.0" stroke="#333" stroke-width="0.8" fill="#ccc" stroke-linejoin="round"/>
<path d="M440.19 405.26 l3.6 -2.0" stroke="#222" stroke-width="1.2"/>
<path d="M441.30 394.35 L451.52 388.39 L456.72 391.69 L456.72 395.59 L446.50 401.55 L446.10 397.65 Z" fill="#fff" stroke="#2a2a2a" stroke-width="0.9" stroke-linejoin="round"/>
<path class="g" d="M446.10 397.65 L456.72 391.69" fill="none" />
<path d="M449.41 399.47 l0.3 1.7 l2.4 -0.2 l1.7 -2.0" stroke="#333" stroke-width="0.8" fill="#ccc" stroke-linejoin="round"/>
<path d="M449.61 399.77 l3.6 -2.0" stroke="#222" stroke-width="1.2"/>
<text x="441.90" y="427.60" font-size="10.4" fill="#111" text-anchor="start">0144</text>
<path class="l" d="M423.90 417.60 L423.90 426.30 L436.50 426.30" fill="none" />
<path class="w" d="M367.20 416.40 L367.20 437.00 L369.00 437.60 L369.00 416.00" fill="none" />
<path class="g" d="M370.60 415.20 L370.60 437.00"/>
<path class="wg" d="M376.30 411.00 L376.30 432.00 L378.10 431.80 L378.10 410.00" fill="none" />
<path class="k" d="M378.10 410.00 L378.10 431.80"/>
<path class="k" d="M367.20 416.40 L367.20 436.80"/>
<path class="w" d="M365.40 415.40 L380.50 406.20 L381.50 407.60 L366.70 416.60 Z" fill="none" />
<path class="k2" d="M371.40 413.30 L371.40 417.40"/>
<path class="k2" d="M376.20 410.30 L376.20 414.60"/>
<path class="w" d="M365.40 437.30 L379.90 430.00 L384.20 432.90 L384.20 436.60 L370.90 443.60 L367.20 442.40 L365.40 440.80 Z" fill="none" />
<path class="g" d="M365.40 437.30 L370.20 440.00 L384.20 432.90" fill="none" />
<path class="g" d="M370.40 440.20 L370.90 443.40"/>
<path class="w" d="M367.20 442.40 L367.90 452.00 L370.90 455.70 L376.70 452.50 L377.30 440.40" fill="none" />
<path class="k2" d="M370.90 443.60 L370.90 455.70"/>
<path class="g" d="M367.90 443.00 L368.40 451.60 L370.90 454.80" fill="none" />
<text x="381.10" y="460.20" font-size="10.4" fill="#111" text-anchor="start">0143</text>
<path class="l" d="M380.00 444.20 L391.50 444.20 L391.50 450.40" fill="none" />
<path class="w" d="M493.53 475.56 L535.57 452.28 L543.08 452.28 L546.83 461.29 L549.08 465.05 L549.08 468.05 L492.78 501.08 L480.02 498.08 L477.76 493.57 Z" fill="none" />
<path class="k" d="M492.78 465.05 L528.06 445.53" fill="none" />
<path class="k2" d="M497.10 483.80 Q496.80 477.30 492.50 474.20"/>
<path class="g" d="M498.30 483.00 Q498.10 477.30 494.70 473.20"/>
<path d="M497.10 483.80 L497.10 495.50" stroke="#333" stroke-width="0.8"/>
<path class="k2" d="M502.90 480.60 Q502.60 474.10 498.30 471.00"/>
<path class="g" d="M504.10 479.80 Q503.90 474.10 500.50 470.00"/>
<path d="M502.90 480.60 L502.90 492.30" stroke="#333" stroke-width="0.8"/>
<path class="k2" d="M508.70 477.40 Q508.40 470.90 504.10 467.80"/>
<path class="g" d="M509.90 476.60 Q509.70 470.90 506.30 466.80"/>
<path d="M508.70 477.40 L508.70 489.10" stroke="#333" stroke-width="0.8"/>
<path class="k2" d="M514.50 474.20 Q514.20 467.70 509.90 464.60"/>
<path class="g" d="M515.70 473.40 Q515.50 467.70 512.10 463.60"/>
<path d="M514.50 474.20 L514.50 485.90" stroke="#333" stroke-width="0.8"/>
<path class="k2" d="M520.30 471.00 Q520.00 464.50 515.70 461.40"/>
<path class="g" d="M521.50 470.20 Q521.30 464.50 517.90 460.40"/>
<path d="M520.30 471.00 L520.30 482.70" stroke="#333" stroke-width="0.8"/>
<path class="k2" d="M526.10 467.80 Q525.80 461.30 521.50 458.20"/>
<path class="g" d="M527.30 467.00 Q527.10 461.30 523.70 457.20"/>
<path d="M526.10 467.80 L526.10 479.50" stroke="#333" stroke-width="0.8"/>
<path class="k2" d="M531.90 464.60 Q531.60 458.10 527.30 455.00"/>
<path class="g" d="M533.10 463.80 Q532.90 458.10 529.50 454.00"/>
<path d="M531.90 464.60 L531.90 476.30" stroke="#333" stroke-width="0.8"/>
<path class="k2" d="M537.70 461.40 Q537.40 454.90 533.10 451.80"/>
<path class="g" d="M538.90 460.60 Q538.70 454.90 535.30 450.80"/>
<path d="M537.70 461.40 L537.70 473.10" stroke="#333" stroke-width="0.8"/>
<path class="k2" d="M543.50 458.20 Q543.20 451.70 538.90 448.60"/>
<path class="g" d="M544.70 457.40 Q544.50 451.70 541.10 447.60"/>
<path d="M543.50 458.20 L543.50 469.90" stroke="#333" stroke-width="0.8"/>
<path class="t" d="M498.40 484.30 L502.00 482.30 L502.00 486.60 L498.40 488.60 Z" fill="none" />
<path class="t" d="M498.40 489.70 L502.00 487.70 L502.00 492.00 L498.40 494.00 Z" fill="none" />
<path class="m" d="M497.10 489.40 L502.90 486.20" fill="none" />
<path class="t" d="M504.20 481.10 L507.80 479.10 L507.80 483.40 L504.20 485.40 Z" fill="none" />
<path class="t" d="M504.20 486.50 L507.80 484.50 L507.80 488.80 L504.20 490.80 Z" fill="none" />
<path class="m" d="M502.90 486.20 L508.70 483.00" fill="none" />
<path class="t" d="M510.00 477.90 L513.60 475.90 L513.60 480.20 L510.00 482.20 Z" fill="none" />
<path class="t" d="M510.00 483.30 L513.60 481.30 L513.60 485.60 L510.00 487.60 Z" fill="none" />
<path class="m" d="M508.70 483.00 L514.50 479.80" fill="none" />
<path class="t" d="M515.80 474.70 L519.40 472.70 L519.40 477.00 L515.80 479.00 Z" fill="none" />
<path class="t" d="M515.80 480.10 L519.40 478.10 L519.40 482.40 L515.80 484.40 Z" fill="none" />
<path class="m" d="M514.50 479.80 L520.30 476.60" fill="none" />
<path class="t" d="M521.60 471.50 L525.20 469.50 L525.20 473.80 L521.60 475.80 Z" fill="none" />
<path class="t" d="M521.60 476.90 L525.20 474.90 L525.20 479.20 L521.60 481.20 Z" fill="none" />
<path class="m" d="M520.30 476.60 L526.10 473.40" fill="none" />
<path class="t" d="M527.40 468.30 L531.00 466.30 L531.00 470.60 L527.40 472.60 Z" fill="none" />
<path class="t" d="M527.40 473.70 L531.00 471.70 L531.00 476.00 L527.40 478.00 Z" fill="none" />
<path class="m" d="M526.10 473.40 L531.90 470.20" fill="none" />
<path class="t" d="M533.20 465.10 L536.80 463.10 L536.80 467.40 L533.20 469.40 Z" fill="none" />
<path class="t" d="M533.20 470.50 L536.80 468.50 L536.80 472.80 L533.20 474.80 Z" fill="none" />
<path class="m" d="M531.90 470.20 L537.70 467.00" fill="none" />
<path class="t" d="M539.00 461.90 L542.60 459.90 L542.60 464.20 L539.00 466.20 Z" fill="none" />
<path class="t" d="M539.00 467.30 L542.60 465.30 L542.60 469.60 L539.00 471.60 Z" fill="none" />
<path class="m" d="M537.70 467.00 L543.50 463.80" fill="none" />
<path class="k2" d="M497.10 483.80 L543.50 458.20" fill="none" />
<path class="k" d="M497.10 495.50 L543.50 469.90" fill="none" />
<path class="g" d="M493.70 476.00 L540.30 450.30" fill="none" />
<path class="w" d="M474.60 465.30 L479.10 462.40 L482.70 460.30 L486.20 460.30 L491.80 465.50 L491.80 471.60 L490.40 473.70 L491.10 480.10 L494.00 482.90 L496.60 494.60 L492.50 500.60 L480.50 498.40 L477.70 494.20 L478.40 491.40 L475.60 473.70 Z" fill="none" />
<path class="k2" d="M479.80 466.70 L479.80 463.10 L483.40 461.00 L487.60 463.80 L487.60 467.40 L484.10 469.50" fill="none" />
<path class="m" d="M479.80 463.10 L484.10 465.80 L487.60 463.80" fill="none" />
<path class="m" d="M484.10 465.80 L484.10 469.50"/>
<path class="m" d="M474.60 465.30 L479.80 466.70 L484.10 469.50 L491.80 465.50" fill="none" />
<path class="m" d="M484.10 469.50 L486.20 484.30 L491.80 495.60" fill="none" />
<path class="g" d="M486.20 484.30 L491.30 482.20" fill="none" />
<path class="m" d="M477.70 494.20 L481.50 492.60 L492.50 500.60" fill="none" />
<path class="k" d="M478.20 496.00 L479.80 498.00 L481.00 500.00 L491.60 501.80 L493.40 500.60" fill="none" />
<path class="w" d="M530.32 435.02 L538.57 427.51 L546.83 433.51 L546.83 451.83 L546.38 452.73 L546.83 453.63 L546.83 461.29 L543.08 459.34 L540.83 452.28 L535.57 452.28 L535.57 447.78 L530.32 445.53 L527.76 444.02 L528.06 440.27 L530.32 439.52 Z" fill="none" />
<path class="k2" d="M533.32 433.51 L538.57 429.76 L543.83 433.51 L538.57 437.27 Z" fill="none" />
<path class="m" d="M533.32 433.51 L533.32 436.52 L538.57 440.27 L538.57 437.27" fill="none" />
<path class="m" d="M530.32 435.02 L538.57 441.02 L546.83 433.51" fill="none" />
<path class="m" d="M538.57 441.02 L540.08 450.03 L543.08 459.34" fill="none" />
<path class="m" d="M531.07 442.52 L536.32 445.53 L536.32 447.78" fill="none" />
<path class="k2" d="M544.58 465.05 L546.83 463.54 L549.08 465.05" fill="none" />
<ellipse cx="546.08" cy="464.74" rx="1.6" ry="1.1" fill="#444"/>
<text x="557.90" y="434.40" font-size="10.4" fill="#111" text-anchor="start">0160</text>
<path class="l" d="M547.20 445.50 L567.40 445.50 L567.40 436.80" fill="none" />
<rect x="665" y="68.8" width="51.3" height="81.8" fill="none" stroke="#666" stroke-width="0.9" stroke-dasharray="7.8 2.75"/>
<rect x="687.1" y="76.6" width="16.6" height="6.6" rx="0.8" fill="#6a6a6a" stroke="#333" stroke-width="0.7"/>
<rect x="688.60" y="79.6" width="1.2" height="1.6" fill="#ddd"/>
<rect x="691.05" y="79.6" width="1.2" height="1.6" fill="#ddd"/>
<rect x="693.50" y="79.6" width="1.2" height="1.6" fill="#ddd"/>
<rect x="695.95" y="79.6" width="1.2" height="1.6" fill="#ddd"/>
<rect x="698.40" y="79.6" width="1.2" height="1.6" fill="#ddd"/>
<rect x="700.85" y="79.6" width="1.2" height="1.6" fill="#ddd"/>
<path d="M687.6 78.4 L703.2 78.4" stroke="#444" stroke-width="0.6"/>
<path d="M689.80 83.2 L689.80 106.20 L676.60 106.20 L676.60 138.5" fill="none" stroke="#666" stroke-width="0.8"/>
<path d="M692.00 83.2 L692.00 108.40 L678.80 108.40 L678.80 138.5" fill="none" stroke="#666" stroke-width="0.8"/>
<path d="M694.20 83.2 L694.20 110.60 L681.00 110.60 L681.00 138.5" fill="none" stroke="#666" stroke-width="0.8"/>
<path d="M696.90 83.2 L696.90 137.5" fill="none" stroke="#666" stroke-width="0.8"/>
<path d="M699.00 83.2 L699.00 137.5" fill="none" stroke="#666" stroke-width="0.8"/>
<path d="M701.30 83.2 L701.30 137.5" fill="none" stroke="#666" stroke-width="0.8"/>
<ellipse cx="689.80" cy="89.8" rx="1.0" ry="1.3" fill="#fff" stroke="#777" stroke-width="0.5"/>
<ellipse cx="692.00" cy="89.8" rx="1.0" ry="1.3" fill="#fff" stroke="#777" stroke-width="0.5"/>
<ellipse cx="694.20" cy="89.8" rx="1.0" ry="1.3" fill="#fff" stroke="#777" stroke-width="0.5"/>
<ellipse cx="696.90" cy="89.8" rx="1.0" ry="1.3" fill="#fff" stroke="#777" stroke-width="0.5"/>
<ellipse cx="699.00" cy="89.8" rx="1.0" ry="1.3" fill="#fff" stroke="#777" stroke-width="0.5"/>
<ellipse cx="701.30" cy="89.8" rx="1.0" ry="1.3" fill="#fff" stroke="#777" stroke-width="0.5"/>
<ellipse cx="676.60" cy="131.9" rx="1.0" ry="1.3" fill="#fff" stroke="#777" stroke-width="0.5"/>
<ellipse cx="678.80" cy="131.9" rx="1.0" ry="1.3" fill="#fff" stroke="#777" stroke-width="0.5"/>
<ellipse cx="681.00" cy="131.9" rx="1.0" ry="1.3" fill="#fff" stroke="#777" stroke-width="0.5"/>
<ellipse cx="696.90" cy="131.9" rx="1.0" ry="1.3" fill="#fff" stroke="#777" stroke-width="0.5"/>
<ellipse cx="699.00" cy="131.9" rx="1.0" ry="1.3" fill="#fff" stroke="#777" stroke-width="0.5"/>
<ellipse cx="701.30" cy="131.9" rx="1.0" ry="1.3" fill="#fff" stroke="#777" stroke-width="0.5"/>
<rect x="673.9" y="138.5" width="9.9" height="6.6" rx="0.6" fill="#5a5a5a" stroke="#333" stroke-width="0.7"/>
<rect x="675.60" y="141.3" width="1.4" height="1.6" fill="#ddd"/>
<rect x="678.10" y="141.3" width="1.4" height="1.6" fill="#ddd"/>
<rect x="680.60" y="141.3" width="1.4" height="1.6" fill="#ddd"/>
<rect x="694.9" y="137.3" width="9.2" height="7.8" rx="0.6" fill="#6a6a6a" stroke="#333" stroke-width="0.7"/>
<path d="M695.4 139.6 L703.6 139.6 M695.4 141.6 L703.6 141.6 M695.4 143.4 L703.6 143.4" stroke="#ccc" stroke-width="0.6"/>
<text x="658.90" y="175.20" font-size="11.33" fill="#111" text-anchor="start">0190</text>
<path class="l" d="M687.20 171.20 L700.50 171.20 L700.50 151.00" fill="none" />
<rect x="754.9" y="69.3" width="27.5" height="27" rx="0.8" fill="#fff" stroke="#7a7a7a" stroke-width="1.1"/>
<path d="M755.4 69.9 L762.9 69.9 L767.7 79.5 L762.9 89.2 L755.4 89.2" fill="none" stroke="#777" stroke-width="0.7"/>
<path d="M755.4 72.6 L761.4 72.6 L764.9 79.5 L761.4 86.4 L755.4 86.4" fill="none" stroke="#aaa" stroke-width="0.6"/>
<path d="M755.4 73.3 A6.3 6.3 0 0 1 755.4 85.7" fill="none" stroke="#999" stroke-width="0.7"/>
<path d="M755.4 69.9 L762.7 69.9 M755.4 89.2 L762.7 89.2" stroke="#222" stroke-width="1.0"/>
<path d="M773.6 96 L773.6 82.6 C771.2 81.6 769.6 79.6 769.4 76.8 L769.6 75.6 L772.4 77.8 L775.2 77.2 L776.2 74.4 L774.2 71.9 C776.6 71.4 779.6 72.6 780.6 75.6 C781.4 78.6 780.2 81.2 778 82.6 L778 96 Z" fill="#111" stroke="none"/>
<text x="757.90" y="106.90" font-size="9.2" fill="#4a4a4a" text-anchor="start">0199</text>
</svg>
</body></html>
